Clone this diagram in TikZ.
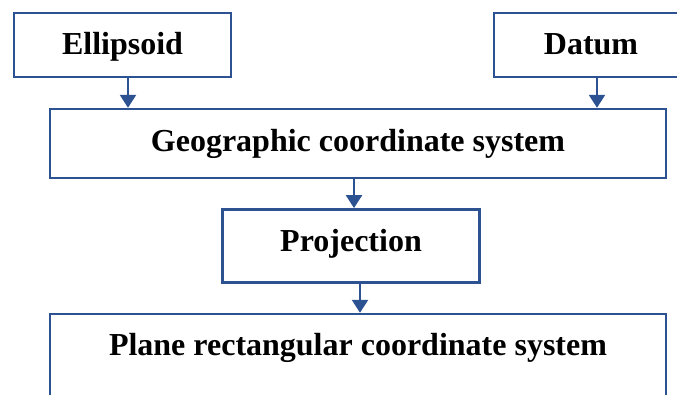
\documentclass[tikz,border=0pt]{standalone}
\usepackage{fontspec}
\setmainfont{Liberation Serif}
\usetikzlibrary{arrows.meta}
\definecolor{frameblue}{RGB}{44,82,145}
\begin{document}
\begin{tikzpicture}[x=1pt,y=-1pt,
  box/.style n args={2}{draw=frameblue, line width=2.4pt, fill=white,
    inner sep=0pt, minimum width=#1, minimum height=#2},
  lbl/.style={anchor=base, inner sep=0pt, font=\fontsize{32}{38}\selectfont\bfseries},
  flow/.style={draw=frameblue, line width=2.4pt,
    -{Triangle[length=13pt, width=16pt]}}]
  \useasboundingbox (0,0) rectangle (677,394);
  \clip (0,0) rectangle (677,394);

  % boxes
  \node[box={217}{64}] (ell) at (122.5,45) {};
  \node[box={194}{64}] (dat) at (591,45) {};
  \node[box={616}{69}] (geo) at (358,143.5) {};
  \node[box={257}{73}] (proj) at (351,245.8) {};
  \node[box={616}{106}] (plane) at (358,367) {};

  % labels
  \node[lbl] (tell) at (122.5,54) {Ellipsoid};
  \node[lbl] (tdat) at (591,54) {Datum};
  \node[lbl] (tgeo) at (358,151) {Geographic coordinate system};
  \node[lbl] (tproj) at (351,251) {Projection};
  \node[lbl] (tplane) at (358,355) {Plane rectangular coordinate system};

  % connectors
  \coordinate (xa) at (128,0);
  \coordinate (xb) at (597,0);
  \coordinate (xc) at (354,0);
  \coordinate (xd) at (360,0);
  \draw[flow] (ell.south -| xa) -- (geo.north -| xa);
  \draw[flow] (dat.south -| xb) -- (geo.north -| xb);
  \draw[flow] (geo.south -| xc) -- (proj.north -| xc);
  \draw[flow] (proj.south -| xd) -- (plane.north -| xd);
\end{tikzpicture}
\end{document}
